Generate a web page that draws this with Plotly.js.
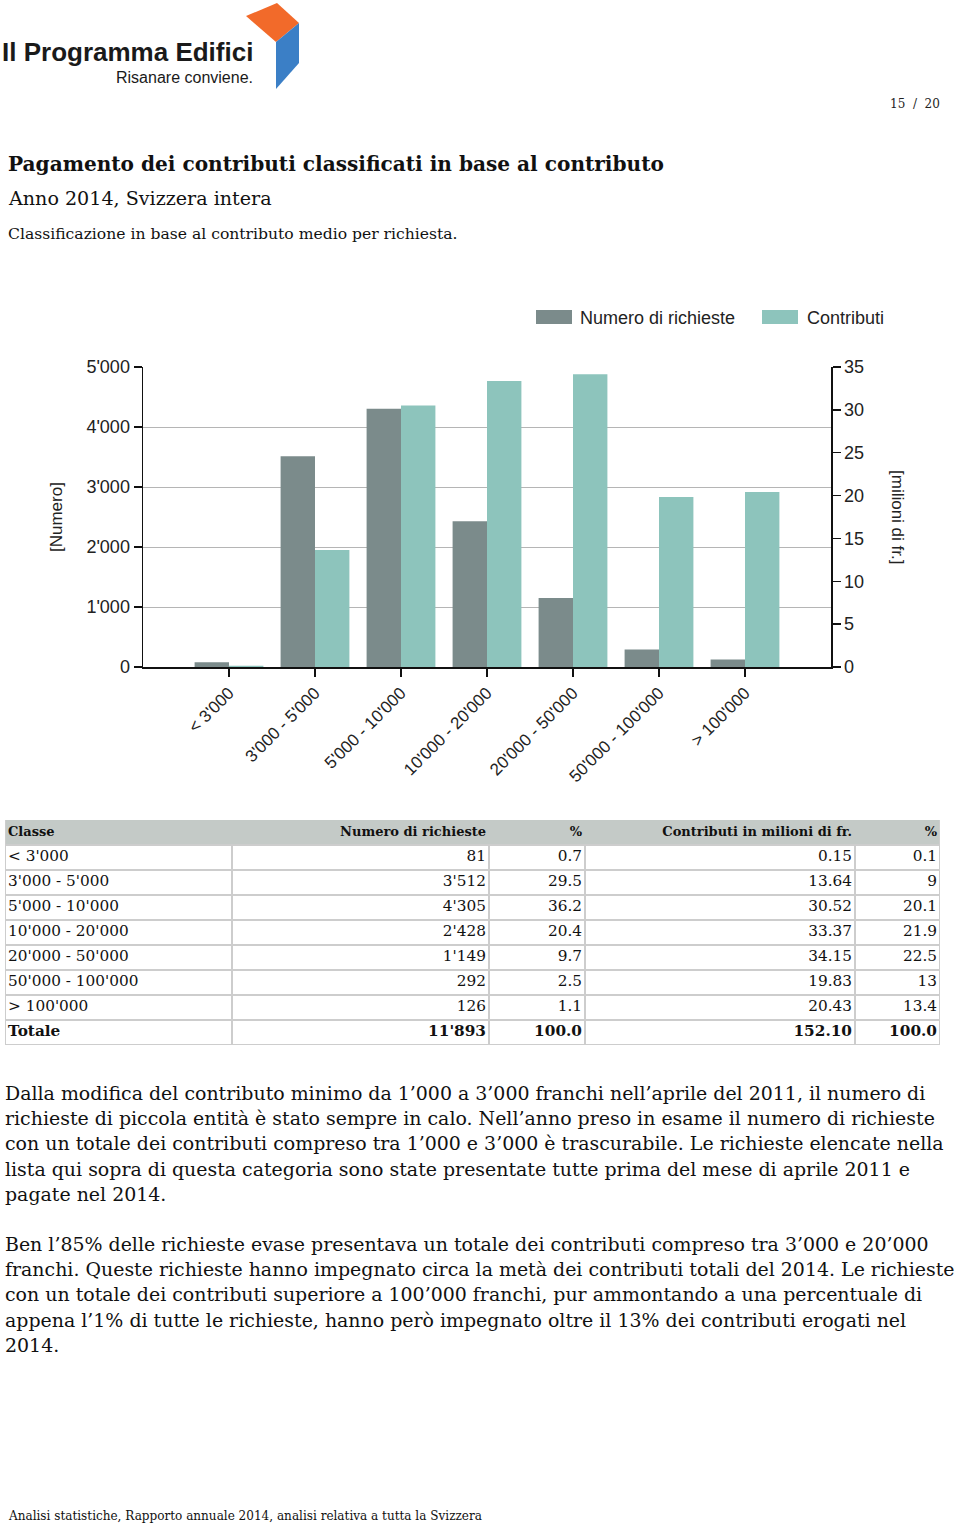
<!DOCTYPE html>
<html>
<head>
<meta charset="utf-8">
<script src="https://cdn.plot.ly/plotly-3.0.1.min.js"></script>
<style>
  html, body { margin: 0; padding: 0; background: #fff; }
  #page { width: 960px; height: 1526px; }
</style>
</head>
<body>
<div id="page"></div>
<script>
// ---------- DATA ----------
var classi = ["< 3'000", "3'000 - 5'000", "5'000 - 10'000", "10'000 - 20'000", "20'000 - 50'000", "50'000 - 100'000", "> 100'000"];
var numeroRichieste = [81, 3512, 4305, 2428, 1149, 292, 126];
var numeroPct = [0.7, 29.5, 36.2, 20.4, 9.7, 2.5, 1.1];
var contributi = [0.15, 13.64, 30.52, 33.37, 34.15, 19.83, 20.43];
var contributiPct = [0.1, 9, 20.1, 21.9, 22.5, 13, 13.4];
var totaleLabel = "Totale";
var totaleNumero = "11'893";
var totaleNumeroPct = "100.0";
var totaleContributi = "152.10";
var totaleContributiPct = "100.0";
var tableHeader = ["Classe", "Numero di richieste", "%", "Contributi in milioni di fr.", "%"];
var seriesNames = ["Numero di richieste", "Contributi"];
var leftTicks = [0, 1000, 2000, 3000, 4000, 5000];
var rightTicks = [0, 5, 10, 15, 20, 25, 30, 35];

var paragraph1 = [
  "Dalla modifica del contributo minimo da 1’000 a 3’000 franchi nell’aprile del 2011, il numero di",
  "richieste di piccola entità è stato sempre in calo. Nell’anno preso in esame il numero di richieste",
  "con un totale dei contributi compreso tra 1’000 e 3’000 è trascurabile. Le richieste elencate nella",
  "lista qui sopra di questa categoria sono state presentate tutte prima del mese di aprile 2011 e",
  "pagate nel 2014."
];
var paragraph2 = [
  "Ben l’85% delle richieste evase presentava un totale dei contributi compreso tra 3’000 e 20’000",
  "franchi. Queste richieste hanno impegnato circa la metà dei contributi totali del 2014. Le richieste",
  "con un totale dei contributi superiore a 100’000 franchi, pur ammontando a una percentuale di",
  "appena l’1% di tutte le richieste, hanno però impegnato oltre il 13% dei contributi erogati nel",
  "2014."
];

// ---------- helpers ----------
var W = 960, H = 1526;
function px(x) { return x / W; }
function py(y) { return 1 - y / H; }
function fmtThousands(n) { return String(n).replace(/\B(?=(\d{3})+(?!\d))/g, "'"); }

var DARK = '#7b8b8b', TEAL = '#8dc4bc';
var SERIF = 'DejaVu Serif, serif';
var SANS = 'Liberation Sans, Arial, sans-serif';

// ---------- chart traces ----------
var traceNum = {
  type: 'bar', x: classi, y: numeroRichieste, name: seriesNames[0],
  marker: { color: DARK }, width: 0.4, offset: -0.4,
  xaxis: 'x', yaxis: 'y', showlegend: false, hoverinfo: 'x+y'
};
var traceContr = {
  type: 'bar', x: classi, y: contributi, name: seriesNames[1],
  marker: { color: TEAL }, width: 0.4, offset: 0,
  xaxis: 'x', yaxis: 'y2', showlegend: false, hoverinfo: 'x+y'
};

// ---------- table (drawn on its own hidden axes) ----------
var colWidths = [227, 257, 96, 270, 85];
var colAlign = ['left', 'right', 'right', 'right', 'right'];
var cellPad = 3;
var tableCols = [
  classi.slice(),
  numeroRichieste.map(fmtThousands),
  numeroPct.map(function (v) { return String(v); }),
  contributi.map(function (v) { return v.toFixed(2); }),
  contributiPct.map(function (v) { return String(v); })
];
var totals = [totaleLabel, totaleNumero, totaleNumeroPct, totaleContributi, totaleContributiPct];
var nBody = classi.length + 1;          // body rows incl. total
var nRowsAll = nBody + 1;               // + header
var tableW = colWidths.reduce(function (a, b) { return a + b; }, 0);
var colEdges = [0];
colWidths.forEach(function (w, i) { colEdges.push(colEdges[i] + w); });

var tableTraces = tableCols.map(function (col, c) {
  var texts = ['<b>' + tableHeader[c] + '</b>']
    .concat(col)
    .concat(['<b>' + totals[c] + '</b>']);
  var rows = texts.map(function (_, r) { return r + 0.5; });
  var sizes = texts.map(function (_, r) { return r === 0 ? 13 : 15.3; });
  var xPos = colAlign[c] === 'left' ? colEdges[c] + cellPad : colEdges[c + 1] - cellPad;
  return {
    type: 'scatter', mode: 'text', xaxis: 'x3', yaxis: 'y3',
    x: texts.map(function () { return xPos; }), y: rows, text: texts,
    textposition: colAlign[c] === 'left' ? 'middle right' : 'middle left',
    textfont: { family: SERIF, size: sizes, color: '#111' },
    showlegend: false, hoverinfo: 'skip', cliponaxis: false
  };
});

// ---------- annotations ----------
var ann = [];
function text(t, x, y, opts) {
  var a = {
    text: t, x: px(x), y: py(y), xref: 'paper', yref: 'paper', showarrow: false,
    xanchor: 'left', yanchor: 'middle',
    font: { family: SERIF, size: 18.95, color: '#111' }
  };
  for (var k in opts) { a[k] = opts[k]; }
  return a;
}
// logo text
ann.push(text('<b>Il Programma Edifici</b>', 0, 52, { font: { family: SANS, size: 26, color: '#1a1a1a' } }));
ann.push(text('Risanare conviene.', 255, 77, { xanchor: 'right', font: { family: SANS, size: 16, color: '#1a1a1a' } }));
// page number
ann.push(text('15  /  20', 942, 104, { xanchor: 'right', font: { family: SERIF, size: 12, color: '#222' } }));
// titles
ann.push(text('<b>Pagamento dei contributi classificati in base al contributo</b>', 6, 164, { font: { family: SERIF, size: 20.1, color: '#111' } }));
ann.push(text('Anno 2014, Svizzera intera', 6, 199, { font: { family: SERIF, size: 19.1, color: '#111' } }));
ann.push(text('Classificazione in base al contributo medio per richiesta.', 6, 234, { font: { family: SERIF, size: 15.6, color: '#111' } }));
// legend texts
ann.push(text(seriesNames[0], 578, 318, { font: { family: SANS, size: 18, color: '#222' } }));
ann.push(text(seriesNames[1], 805, 318, { font: { family: SANS, size: 18, color: '#222' } }));
// axis titles
ann.push(text('[Numero]', 57, 517, { xanchor: 'center', textangle: -90, font: { family: SANS, size: 17, color: '#222' } }));
ann.push(text('[milioni di fr.]', 897, 517, { xanchor: 'center', textangle: 90, font: { family: SANS, size: 17, color: '#222' } }));
// paragraphs
paragraph1.forEach(function (l, i) { ann.push(text(l, 3, 1093 + i * 25.2)); });
paragraph2.forEach(function (l, i) { ann.push(text(l, 3, 1244 + i * 25.2)); });
// footer
ann.push(text('Analisi statistiche, Rapporto annuale 2014, analisi relativa a tutta la Svizzera', 6, 1516, { font: { family: SERIF, size: 12.05, color: '#111' } }));

// ---------- shapes ----------
function pathPx(pts) {
  return 'M' + pts.map(function (p) { return px(p[0]) + ',' + py(p[1]); }).join('L') + 'Z';
}
var shapes = [
  { type: 'path', xref: 'paper', yref: 'paper', path: pathPx([[246, 16], [277, 3], [299, 23], [276, 42]]), fillcolor: '#f26a2a', line: { width: 0 } },
  { type: 'path', xref: 'paper', yref: 'paper', path: pathPx([[276, 42], [299, 23], [299, 63], [276, 89]]), fillcolor: '#3b7fc6', line: { width: 0 } },
  { type: 'rect', xref: 'paper', yref: 'paper', x0: px(536), x1: px(572), y0: py(324), y1: py(310), fillcolor: DARK, line: { width: 0 } },
  { type: 'rect', xref: 'paper', yref: 'paper', x0: px(762), x1: px(798), y0: py(324), y1: py(310), fillcolor: TEAL, line: { width: 0 } }
];
var GRID = '#cdcdcd';
// table header band
shapes.push({ type: 'rect', xref: 'x3', yref: 'y3', x0: 0, x1: tableW, y0: 0, y1: 1, fillcolor: '#c4cac7', line: { width: 0 }, layer: 'below' });
// table horizontal rules
for (var r = 1; r <= nRowsAll; r++) {
  shapes.push({ type: 'line', xref: 'x3', yref: 'y3', x0: 0, x1: tableW, y0: r, y1: r, line: { color: GRID, width: 2 }, layer: 'below' });
}
// table vertical rules
colEdges.forEach(function (e) {
  shapes.push({ type: 'line', xref: 'x3', yref: 'y3', x0: e, x1: e, y0: 1, y1: nRowsAll, line: { color: GRID, width: 2 }, layer: 'below' });
});
shapes.push({ type: 'line', xref: 'x3', yref: 'y3', x0: 0, x1: 0, y0: 0, y1: 1, line: { color: GRID, width: 2 }, layer: 'below' });
shapes.push({ type: 'line', xref: 'x3', yref: 'y3', x0: tableW, x1: tableW, y0: 0, y1: 1, line: { color: GRID, width: 2 }, layer: 'below' });

var layout = {
  width: W, height: H,
  margin: { l: 0, r: 0, t: 0, b: 0, pad: 0 },
  paper_bgcolor: '#ffffff', plot_bgcolor: '#ffffff',
  separators: ".'",
  showlegend: false,
  xaxis: {
    domain: [px(143), px(831)],
    anchor: 'y',
    type: 'category',
    range: [-1, 7],
    showline: true, linecolor: '#111', linewidth: 1.5,
    ticks: 'outside', ticklen: 8, tickwidth: 1.5, tickcolor: '#111',
    tickangle: -45,
    tickfont: { family: SANS, size: 17, color: '#222' },
    showgrid: false, zeroline: false, fixedrange: true
  },
  yaxis: {
    domain: [py(667), py(367)],
    anchor: 'x',
    range: [0, 5000],
    tickvals: leftTicks,
    tickformat: ',',
    showline: true, linecolor: '#111', linewidth: 1.5,
    ticks: 'outside', ticklen: 8, tickwidth: 1.5, tickcolor: '#111',
    tickfont: { family: SANS, size: 18, color: '#222' },
    showgrid: true, gridcolor: '#b5b5b5', gridwidth: 1,
    zeroline: false, fixedrange: true
  },
  yaxis2: {
    overlaying: 'y', side: 'right', anchor: 'x',
    range: [0, 35],
    tickvals: rightTicks,
    showline: true, linecolor: '#111', linewidth: 1.5,
    ticks: 'outside', ticklen: 8, tickwidth: 1.5, tickcolor: '#111',
    tickfont: { family: SANS, size: 18, color: '#222' },
    showgrid: false, zeroline: false, fixedrange: true
  },
  xaxis3: {
    domain: [px(5), px(940)], anchor: 'y3',
    range: [0, tableW], visible: false, fixedrange: true
  },
  yaxis3: {
    domain: [py(1045), py(820)], anchor: 'x3',
    range: [nRowsAll, 0], visible: false, fixedrange: true
  },
  annotations: ann,
  shapes: shapes
};

Plotly.newPlot('page', [traceNum, traceContr].concat(tableTraces), layout, { staticPlot: true, displayModeBar: false });
</script>
</body>
</html>
